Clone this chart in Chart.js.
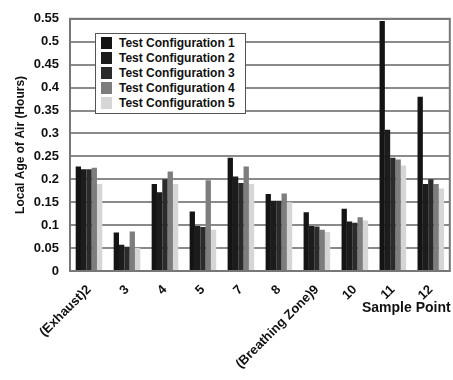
<!DOCTYPE html>
<html>
<head>
<meta charset="utf-8">
<script src="https://cdn.jsdelivr.net/npm/chart.js@4"></script>
<style>
  html, body { margin: 0; padding: 0; background: #fff; }
  #wrap { position: relative; width: 453px; height: 380px; }
  #legend {
    position: absolute; left: 95px; top: 33px; width: 151px; height: 81px;
    border: 1px solid #555; background: #fff; box-sizing: border-box;
    font: bold 12px "Liberation Sans", Arial, sans-serif; color: #111;
    padding: 2px 0 0 5px;
  }
  #legend div { height: 15px; line-height: 15px; white-space: nowrap; }
  #legend span { display: inline-block; width: 11px; height: 12px; margin-right: 7px; vertical-align: -2px; }
  #xtitle {
    position: absolute; left: 362px; top: 299px;
    font: bold 14px "Liberation Sans", Arial, sans-serif; color: #111;
  }
</style>
</head>
<body>
<div id="wrap">
  <canvas id="chart" width="453" height="380"></canvas>
  <div id="legend"></div>
  <div id="xtitle">Sample Point</div>
</div>
<script>
// Sample points and local age of air (hours) per test configuration
const samplePoints = ['(Exhaust)2', '3', '4', '5', '7', '8', '(Breathing Zone)9', '10', '11', '12'];
const config1 = [0.228, 0.084, 0.190, 0.130, 0.247, 0.168, 0.128, 0.136, 0.545, 0.380];
const config2 = [0.222, 0.057, 0.172, 0.098, 0.206, 0.153, 0.098, 0.108, 0.308, 0.190];
const config3 = [0.222, 0.053, 0.200, 0.096, 0.192, 0.153, 0.097, 0.105, 0.247, 0.200];
const config4 = [0.225, 0.086, 0.217, 0.198, 0.228, 0.169, 0.090, 0.117, 0.243, 0.190];
const config5 = [0.190, 0.050, 0.190, 0.090, 0.190, 0.150, 0.085, 0.110, 0.230, 0.180];
const seriesNames = ['Test Configuration 1', 'Test Configuration 2', 'Test Configuration 3', 'Test Configuration 4', 'Test Configuration 5'];
const seriesColors = ['#141414', '#1c1c1c', '#2b2b2b', '#7d7d7d', '#d6d6d6'];
const yTicks = [0, 0.05, 0.1, 0.15, 0.2, 0.25, 0.3, 0.35, 0.4, 0.45, 0.5, 0.55];

const allSeries = [config1, config2, config3, config4, config5];

const fontBold = { family: '"Liberation Sans", Arial, sans-serif', weight: 'bold', size: 12 };

new Chart(document.getElementById('chart'), {
    type: 'bar',
    data: {
        labels: samplePoints,
        datasets: allSeries.map((vals, i) => ({
            label: seriesNames[i],
            data: vals,
            backgroundColor: seriesColors[i],
            borderWidth: 0,
            barPercentage: 1.0,
            categoryPercentage: 0.7
        }))
    },
    options: {
        responsive: false,
        animation: false,
        layout: { padding: { top: 12, right: 3, left: 13, bottom: 0 } },
        plugins: {
            legend: { display: false },
            tooltip: { enabled: false }
        },
        scales: {
            x: {
                grid: { display: false, drawTicks: false },
                border: { color: '#777', width: 2 },
                ticks: {
                    color: '#111',
                    font: { ...fontBold, size: 13 },
                    minRotation: 45,
                    maxRotation: 45,
                    padding: 11,
                    autoSkip: false
                },
                afterFit: scale => { scale.height = 109; }
            },
            y: {
                min: 0,
                max: 0.55,
                afterBuildTicks: scale => { scale.ticks = yTicks.map(v => ({ value: v })); },
                grid: { color: '#8a8a8a', lineWidth: 2, drawTicks: false },
                border: { color: '#777', width: 2 },
                ticks: {
                    color: '#111',
                    font: { ...fontBold, size: 13 },
                    padding: 11,
                    callback: v => String(Math.round(v * 100) / 100)
                },
                title: {
                    display: true,
                    text: 'Local Age of Air (Hours)',
                    color: '#111',
                    font: fontBold,
                    padding: { top: 0, bottom: 4 }
                },
                afterFit: scale => { scale.width = 57; }
            }
        }
    },
    plugins: [{
        id: 'frame',
        afterDraw(chart) {
            const { ctx, chartArea: a } = chart;
            ctx.save();
            ctx.strokeStyle = '#777';
            ctx.lineWidth = 2;
            ctx.strokeRect(a.left, a.top, a.right - a.left, a.bottom - a.top);
            ctx.restore();
        }
    }]
});

// Legend box drawn inside the plot, like the original
const legend = document.getElementById('legend');
seriesNames.forEach((name, i) => {
    const row = document.createElement('div');
    row.innerHTML = `<span style="background:${seriesColors[i]}"></span>${name}`;
    legend.appendChild(row);
});
</script>
</body>
</html>
